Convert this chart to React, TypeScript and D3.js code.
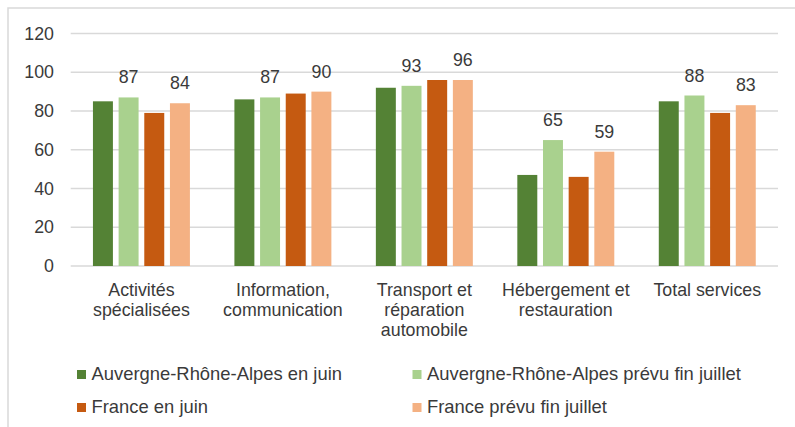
import React from "react";
import * as d3 from "d3";

const categories: string[][] = [
  ["Activités", "spécialisées"],
  ["Information,", "communication"],
  ["Transport et", "réparation", "automobile"],
  ["Hébergement et", "restauration"],
  ["Total services"],
];
const seriesNames = [
  "Auvergne-Rhône-Alpes en juin",
  "Auvergne-Rhône-Alpes prévu fin juillet",
  "France en juin",
  "France prévu fin juillet",
];
const araJuin = [85, 86, 92, 47, 85];
const araJuillet = [87, 87, 93, 65, 88];
const franceJuin = [79, 89, 96, 46, 79];
const franceJuillet = [84, 90, 96, 59, 83];
const seriesValues = [araJuin, araJuillet, franceJuin, franceJuillet];
const labelled = [false, true, false, true];
const colors = ["#548235", "#A9D18E", "#C55A11", "#F4B183"];
const yTicks = [0, 20, 40, 60, 80, 100, 120];

const W = 795;
const H = 427;
const FONT = "'Liberation Sans', Arial, sans-serif";
const TXT = "#3a3a3a";

export default function App() {
  const x0 = d3
    .scaleBand<number>()
    .domain(categories.map((_, i) => i))
    .range([70.7, 778])
    .paddingInner(0.3145)
    .paddingOuter(0.3145 / 2);
  const x1 = d3
    .scaleBand<number>()
    .domain(seriesNames.map((_, i) => i))
    .range([0, x0.bandwidth()])
    .paddingInner(0.222)
    .paddingOuter(0);
  const y = d3.scaleLinear().domain([0, 120]).range([266, 33.5]);

  const legendPos = [
    { x: 77, y: 380 },
    { x: 412.5, y: 380 },
    { x: 77, y: 413 },
    { x: 412.5, y: 413 },
  ];

  return (
    <svg
      width={W}
      height={H}
      style={{ position: "absolute", left: 0, top: 0, background: "#fff" }}
      fontFamily={FONT}
    >
      <rect x={0} y={0} width={W} height={H} fill="#fff" />
      <rect x={8} y={8} width={W + 20} height={H + 20} fill="none" stroke="#d9d9d9" strokeWidth={1.5} />
      {yTicks.map((t) => (
        <g key={t}>
          <line x1={70.7} x2={778} y1={y(t)} y2={y(t)} stroke="#d9d9d9" strokeWidth={1.5} />
          <text x={54} y={y(t)} dy="0.35em" textAnchor="end" fontSize={17.8} fill={TXT}>
            {t}
          </text>
        </g>
      ))}
      {categories.map((cat, ci) => (
        <g key={ci} transform={`translate(${x0(ci)},0)`}>
          {seriesValues.map((vals, si) => {
            const bx = x1(si)!;
            const bw = x1.bandwidth();
            const v = vals[ci];
            return (
              <g key={si}>
                <rect x={bx} y={y(v)} width={bw} height={y(0) - y(v)} fill={colors[si]} />
                {labelled[si] && (
                  <text x={bx + bw / 2} y={y(v) - 14} textAnchor="middle" fontSize={17.8} fill={TXT}>
                    {v}
                  </text>
                )}
              </g>
            );
          })}
          {cat.map((line, li) => (
            <text
              key={li}
              x={x0.bandwidth() / 2}
              y={295.5 + li * 20}
              textAnchor="middle"
              fontSize={17.8}
              fill={TXT}
            >
              {line}
            </text>
          ))}
        </g>
      ))}
      {seriesNames.map((name, si) => (
        <g key={si}>
          <rect x={legendPos[si].x} y={legendPos[si].y - 10} width={9} height={9} fill={colors[si]} />
          <text x={legendPos[si].x + 14.5} y={legendPos[si].y} fontSize={18.4} fill={TXT}>
            {name}
          </text>
        </g>
      ))}
    </svg>
  );
}
